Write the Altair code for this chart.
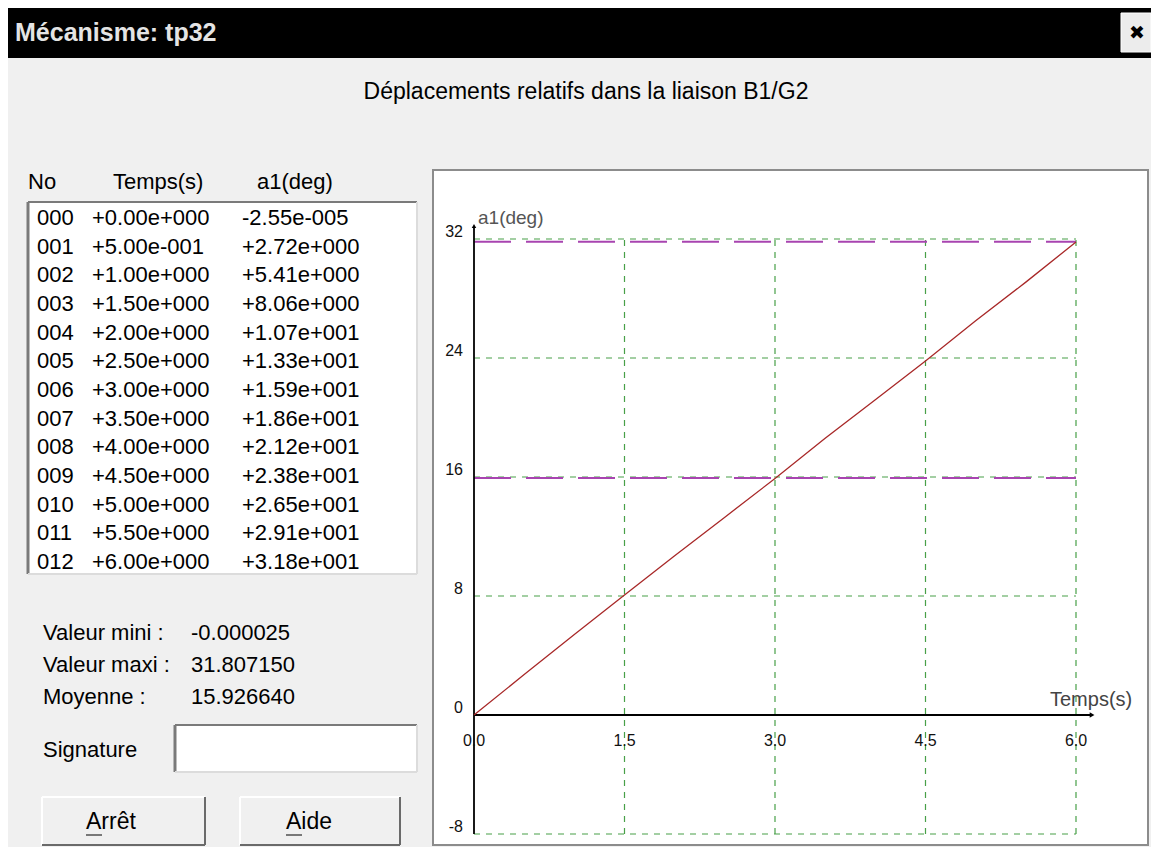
import altair as alt
import pandas as pd

W, H = 1143, 839
FONT = "Liberation Sans"

# ---------------- data ----------------
t_s = [0.0, 0.5, 1.0, 1.5, 2.0, 2.5, 3.0, 3.5, 4.0, 4.5, 5.0, 5.5, 6.0]
a1_deg = [-2.55e-5, 2.72, 5.41, 8.06, 10.7, 13.3, 15.9, 18.6, 21.2, 23.8, 26.5, 29.1, 31.8]
stat_labels = ["Valeur mini :", "Valeur maxi :", "Moyenne :"]
stat_values = ["-0.000025", "31.807150", "15.926640"]
val_min, val_max, val_mean = -0.000025, 31.807150, 15.926640
x_ticks = [0.0, 1.5, 3.0, 4.5, 6.0]
x_tick_labels = ["0.0", "1.5", "3.0", "4.5", "6.0"]
y_ticks = [32, 24, 16, 8, 0, -8]
y_tick_labels = ["32", "24", "16", "8", "0", "-8"]
x_grid = [1.5, 3.0, 4.5, 6.0]
y_grid = [32, 24, 16, 8, -8]
x_axis_end = 6.16
y_axis_end = 32.87


def fmt(v):
    s = f"{v:+.2e}"
    m, e = s.split("e")
    return f"{m}e{e[0]}{int(e[1:]):03d}"


table = pd.DataFrame({
    "row": list(range(len(t_s))),
    "no": [f"{i:03d}" for i in range(len(t_s))],
    "t": [fmt(v) for v in t_s],
    "a": [fmt(v) for v in a1_deg],
})
curve = pd.DataFrame({"t": t_s, "a": a1_deg})
stats = pd.DataFrame({"i": [0, 1, 2], "lab": stat_labels, "val": stat_values})

ONE = pd.DataFrame({"k": [0]})

XS = alt.Scale(domain=[0, 6], range=[466, 1068], nice=False, zero=False)
YS = alt.Scale(domain=[-8, 32], range=[826, 231], nice=False, zero=False)
ROWS = alt.Scale(domain=[0, 12], range=[210, 554], nice=False, zero=False)
SROWS = alt.Scale(domain=[0, 2], range=[625, 689], nice=False, zero=False)


def rect(x, x2, y, y2, fill, stroke=None, sw=0):
    kw = dict(fill=fill)
    if stroke:
        kw.update(stroke=stroke, strokeWidth=sw)
    return alt.Chart(ONE).mark_rect(**kw).encode(
        x=alt.value(x), x2=alt.value(x2), y=alt.value(y), y2=alt.value(y2))


def hline(x, x2, y, color, sw=1):
    return alt.Chart(ONE).mark_rule(color=color, strokeWidth=sw).encode(
        x=alt.value(x), x2=alt.value(x2), y=alt.value(y))


def vline(x, y, y2, color, sw=1):
    return alt.Chart(ONE).mark_rule(color=color, strokeWidth=sw).encode(
        x=alt.value(x), y=alt.value(y), y2=alt.value(y2))


def label(text, x, y, size=22, align="left", weight="normal", color="#000", font=FONT):
    return alt.Chart(ONE).mark_text(
        text=text, align=align, baseline="middle", fontSize=size,
        fontWeight=weight, color=color, font=font).encode(
        x=alt.value(x), y=alt.value(y))


def sunken(x, x2, y, y2, fill="#ffffff"):
    return [
        rect(x, x2, y, y2, fill),
        hline(x, x2, y, "#7a7a7a", 2),
        vline(x, y, y2, "#7a7a7a", 3),
        hline(x, x2, y2, "#dcdcdc", 2),
        vline(x2, y, y2, "#dcdcdc", 2),
    ]


def button(x, x2, y, y2):
    return [
        rect(x, x2, y, y2, "#f0f0f0"),
        hline(x, x2, y, "#ffffff", 2),
        vline(x, y, y2, "#ffffff", 2),
        hline(x, x2, y2, "#6a6a6a", 2),
        vline(x2, y, y2, "#6a6a6a", 2),
    ]


layers = []
# title bar
layers.append(rect(0, W, 0, 50, "#000000"))
layers.append(label("Mécanisme: tp32", 7, 25, size=25, weight="bold", color="#e4e4e4"))
layers.append(rect(1113, 1143, 5, 44, "#ececec", "#ffffff", 1))
layers.append(label("✖", 1129, 25, size=19, align="center", font="DejaVu Sans"))

# subtitle
layers.append(label("Déplacements relatifs dans la liaison B1/G2", 578, 84, size=23, align="center"))

# table header
layers.append(label("No", 20, 174))
layers.append(label("Temps(s)", 105, 174))
layers.append(label("a1(deg)", 249, 174))

# list box
layers += sunken(20, 409, 194, 566)
for col, xpos in [("no", 29), ("t", 84), ("a", 234)]:
    layers.append(
        alt.Chart(table).mark_text(align="left", baseline="middle", fontSize=22,
                                   font=FONT, color="#000").encode(
            x=alt.value(xpos),
            y=alt.Y("row:Q", scale=ROWS, axis=None),
            text=f"{col}:N"))

# statistics
layers.append(alt.Chart(stats).mark_text(align="left", baseline="middle", fontSize=22,
                                         font=FONT, color="#000").encode(
    x=alt.value(35), y=alt.Y("i:Q", scale=SROWS, axis=None), text="lab:N"))
layers.append(alt.Chart(stats).mark_text(align="left", baseline="middle", fontSize=22,
                                         font=FONT, color="#000").encode(
    x=alt.value(183), y=alt.Y("i:Q", scale=SROWS, axis=None), text="val:N"))

# signature
layers.append(label("Signature", 35, 742))
layers += sunken(167, 409, 717, 764)

# buttons
layers += button(34, 197, 789, 837)
layers += button(232, 392, 789, 837)
layers.append(label("Arrêt", 78, 814, size=23))
layers.append(label("Aide", 278, 814, size=23))
layers.append(hline(78, 94, 827, "#000", 1))
layers.append(hline(278, 294, 827, "#000", 1))

# plot frame
layers.append(rect(425, 1140, 162, 837, "#ffffff", "#8c8c8c", 2))

GREEN = "#48a048"
vgrid = pd.DataFrame({"x": x_grid, "y": [-8] * len(x_grid), "y2": [32] * len(x_grid)})
hgrid = pd.DataFrame({"y": y_grid, "x": [0] * len(y_grid), "x2": [6] * len(y_grid)})
layers.append(alt.Chart(vgrid).mark_rule(color=GREEN, strokeWidth=1.2, strokeDash=[6, 6]).encode(
    x=alt.X("x:Q", scale=XS, axis=None),
    y=alt.Y("y:Q", scale=YS, axis=None), y2="y2:Q"))
layers.append(alt.Chart(hgrid).mark_rule(color=GREEN, strokeWidth=1.2, strokeDash=[6, 6]).encode(
    y=alt.Y("y:Q", scale=YS, axis=None),
    x=alt.X("x:Q", scale=XS, axis=None), x2="x2:Q"))

# max / mean lines
mm = pd.DataFrame({"y": [val_max, val_mean], "x": [0, 0], "x2": [6, 6]})
layers.append(alt.Chart(mm).mark_rule(color="#a844b0", strokeWidth=2, strokeDash=[37, 15]).encode(
    y=alt.Y("y:Q", scale=YS, axis=None),
    x=alt.X("x:Q", scale=XS, axis=None), x2="x2:Q"))

# axes
xa = pd.DataFrame({"x": [0], "x2": [x_axis_end], "y": [0]})
ya = pd.DataFrame({"x": [0], "y": [-8], "y2": [y_axis_end]})
layers.append(alt.Chart(xa).mark_rule(color="#000", strokeWidth=1.8).encode(
    x=alt.X("x:Q", scale=XS, axis=None), x2="x2:Q",
    y=alt.Y("y:Q", scale=YS, axis=None)))
layers.append(alt.Chart(ya).mark_rule(color="#000", strokeWidth=1.8).encode(
    x=alt.X("x:Q", scale=XS, axis=None),
    y=alt.Y("y:Q", scale=YS, axis=None), y2="y2:Q"))
arrows = pd.DataFrame({"x": [x_axis_end], "y": [0]})
layers.append(alt.Chart(arrows).mark_point(shape="triangle-right", filled=True, color="#000",
                                           size=30, opacity=1).encode(
    x=alt.X("x:Q", scale=XS, axis=None), y=alt.Y("y:Q", scale=YS, axis=None)))
arrows2 = pd.DataFrame({"x": [0], "y": [y_axis_end]})
layers.append(alt.Chart(arrows2).mark_point(shape="triangle-up", filled=True, color="#000",
                                            size=20, opacity=1).encode(
    x=alt.X("x:Q", scale=XS, axis=None), y=alt.Y("y:Q", scale=YS, axis=None)))

# curve
layers.append(alt.Chart(curve).mark_line(color="#a82828", strokeWidth=1.3).encode(
    x=alt.X("t:Q", scale=XS, axis=None), y=alt.Y("a:Q", scale=YS, axis=None)))

# tick labels
yl = pd.DataFrame({"v": y_ticks, "lab": y_tick_labels, "x": [0] * len(y_ticks)})
layers.append(alt.Chart(yl).mark_text(align="right", baseline="middle", dx=-11, dy=-7,
                                      fontSize=16, font=FONT, color="#111").encode(
    x=alt.X("x:Q", scale=XS, axis=None), y=alt.Y("v:Q", scale=YS, axis=None), text="lab:N"))
xl = pd.DataFrame({"v": x_ticks, "lab": x_tick_labels, "y": [0] * len(x_ticks)})
layers.append(alt.Chart(xl).mark_text(align="center", baseline="middle", dy=26,
                                      fontSize=16, font=FONT, color="#111").encode(
    x=alt.X("v:Q", scale=XS, axis=None), y=alt.Y("y:Q", scale=YS, axis=None), text="lab:N"))

# axis titles
layers.append(label("a1(deg)", 470, 210, size=19, color="#555"))
layers.append(label("Temps(s)", 1042, 692, size=20, color="#444"))

chart = alt.layer(*layers).resolve_scale(x="independent", y="independent").properties(
    width=W, height=H, background="#f0f0f0", padding=0,
    autosize=alt.AutoSizeParams(type="none"),
).configure_view(stroke=None)

chart.save("out.html", embed_options={"renderer": "svg", "actions": False})
